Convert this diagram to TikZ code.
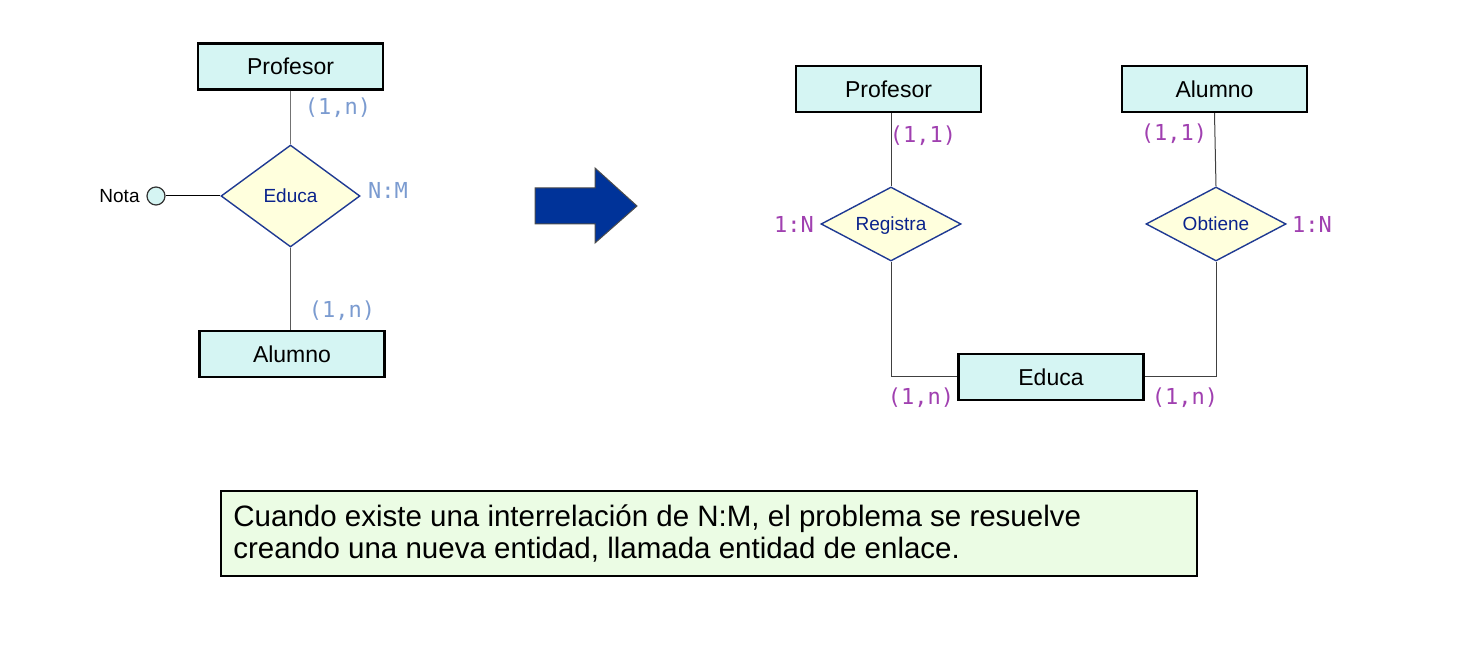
\documentclass[tikz,border=0pt]{standalone}
\usepackage{fontspec}
\setmainfont{Liberation Sans}
\setmonofont{DejaVu Sans Mono}
\usetikzlibrary{shapes.geometric}
\definecolor{entfill}{RGB}{213,245,243}
\definecolor{relfill}{RGB}{255,255,221}
\definecolor{reldraw}{RGB}{31,58,147}
\definecolor{reltext}{RGB}{10,35,140}
\definecolor{arrowfill}{RGB}{0,51,153}
\definecolor{cardblue}{RGB}{123,155,208}
\definecolor{cardpurple}{RGB}{160,64,176}
\definecolor{notefill}{RGB}{235,252,228}
\tikzset{
  entity/.style={draw=black, line width=1.2pt, fill=entfill, minimum width=92.5pt, minimum height=23pt, inner sep=0pt, font=\fontsize{11.5}{13}\selectfont},
  rel/.style={diamond, draw=reldraw, line width=0.7pt, fill=relfill, inner sep=0pt, shape aspect=2, text=reltext, text height=6.8pt, text depth=0pt, font=\fontsize{9.5}{11}\selectfont},
  cardl/.style={text=cardblue, font=\ttfamily\fontsize{11}{13}\selectfont, inner sep=0pt},
  cardp/.style={text=cardpurple, font=\ttfamily\fontsize{11}{13}\selectfont, inner sep=0pt},
  conn/.style={draw=black!75, line width=0.5pt},
  attr/.style={circle, draw=black!80, line width=0.6pt, fill=entfill, minimum size=9pt, inner sep=0pt},
}
\begin{document}
\begin{tikzpicture}[x=0.5pt, y=-0.5pt]
\useasboundingbox (0,0) rectangle (1468,668);
% ---------- left diagram ----------
\node[entity] (P1) at (290.5,66.5) {Profesor};
\node[rel, minimum width=69.5pt, minimum height=51pt] (E1) at (290.5,196) {Educa};
\node[entity] (A1) at (292,354) {Alumno};
\node[attr] (C1) at (156,196) {};
\node[anchor=east, inner sep=0pt, font=\fontsize{9.5}{11}\selectfont] (N1) at (140,196) {Nota};
\draw[conn, draw=black!55] (P1.south) -- (E1.north);
\draw[conn, draw=black!65] (E1.south) -- (E1.south |- A1.north);
\draw[conn, draw=black] (C1.east) -- (E1.west);
\node[cardl] (L1) at (338,108) {(1,n)};
\node[cardl] (L2) at (388,190) {N:M};
\node[cardl] (L3) at (342,311) {(1,n)};
% ---------- arrow ----------
\draw[fill=arrowfill, draw=black!70, line width=0.5pt]
  (535,188) -- (595,188) -- (595,168) -- (637,206) -- (595,243) -- (595,224) -- (535,224) -- cycle;
% ---------- right diagram ----------
\node[entity] (P2) at (888.5,89) {Profesor};
\node[entity] (A2) at (1214.5,89) {Alumno};
\node[rel, minimum width=70pt, minimum height=37pt] (R) at (891,224) {Registra};
\node[rel, minimum width=70pt, minimum height=37pt] (O) at (1216,224) {Obtiene};
\node[entity] (E2) at (1051,377) {Educa};
\draw[conn] (R.north) -- (R.north |- P2.south);
\draw[conn] (A2.south) -- (O.north);
\draw[conn] (R.south) |- (E2.west);
\draw[conn] (O.south) |- (E2.east);
\node[cardp] (L4) at (923,136) {(1,1)};
\node[cardp] (L5) at (1174,134) {(1,1)};
\node[cardp] (L6) at (794,224) {1:N};
\node[cardp] (L7) at (1312,224) {1:N};
\node[cardp] (L8) at (921,398) {(1,n)};
\node[cardp] (L9) at (1185,398) {(1,n)};
% ---------- note ----------
\node[draw=black, line width=0.9pt, fill=notefill, minimum width=488pt, minimum height=42.5pt, inner sep=0pt] (NB) at (709,533.5) {};
\node[anchor=west, align=left, inner sep=0pt, font=\fontsize{14.75}{16}\selectfont] (NT) at (233,534) {Cuando existe una interrelación de N:M, el problema se resuelve\\creando una nueva entidad, llamada entidad de enlace.};
\end{tikzpicture}
\end{document}
